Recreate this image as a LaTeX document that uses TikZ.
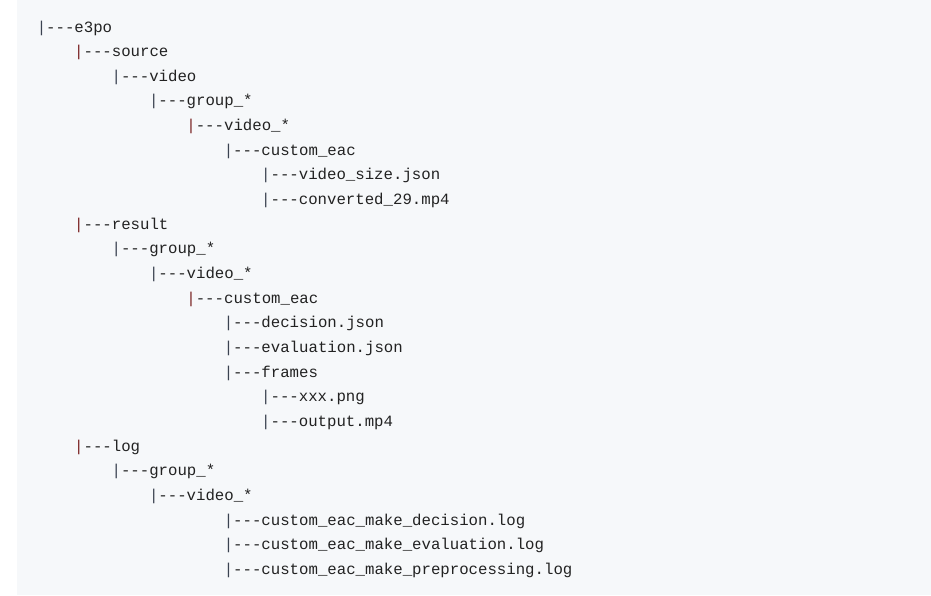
\documentclass[tikz,border=0pt]{standalone}
\usepackage{fontspec}
\setmonofont{Liberation Mono}
\usepackage{xcolor}
\definecolor{codebg}{HTML}{F6F8FA}
\definecolor{codetext}{HTML}{222222}
\definecolor{pipegray}{HTML}{3A4250}
\definecolor{pipered}{HTML}{7A2424}
\begin{document}
\begin{tikzpicture}[x=1pt, y=-1pt,
    entry/.style={anchor=base west, inner sep=0pt, text=codetext,
                  font=\ttfamily\fontsize{15.7}{18}\selectfont}]
        \useasboundingbox (0,0) rectangle (931,595);
        \fill[white] (0,0) rectangle (931,595);
        \fill[codebg] (17,0) rectangle (931,595);
        \foreach \lvl/\pc/\lab [count=\r,
                       evaluate=\r as \yy using {32+(\r-1)*24.65},
                       evaluate=\lvl as \xx using {36.6+37.4*\lvl}]
        in {0/pipegray/e3po, 1/pipered/source, 2/pipegray/video,
            3/pipegray/group\_*, 4/pipered/video\_*, 5/pipegray/custom\_eac,
            6/pipegray/video\_size.json, 6/pipegray/converted\_29.mp4,
            1/pipered/result, 2/pipegray/group\_*, 3/pipegray/video\_*,
            4/pipered/custom\_eac, 5/pipegray/decision.json,
            5/pipegray/evaluation.json, 5/pipegray/frames,
            6/pipegray/xxx.png, 6/pipegray/output.mp4,
            1/pipered/log, 2/pipegray/group\_*, 3/pipegray/video\_*,
            5/pipegray/custom\_eac\_make\_decision.log,
            5/pipegray/custom\_eac\_make\_evaluation.log,
            5/pipegray/custom\_eac\_make\_preprocessing.log} {
           \node[entry] (row\r) at (\xx,\yy) {\textcolor{\pc}{|}---\lab};
        }
      \end{tikzpicture}
\end{document}
